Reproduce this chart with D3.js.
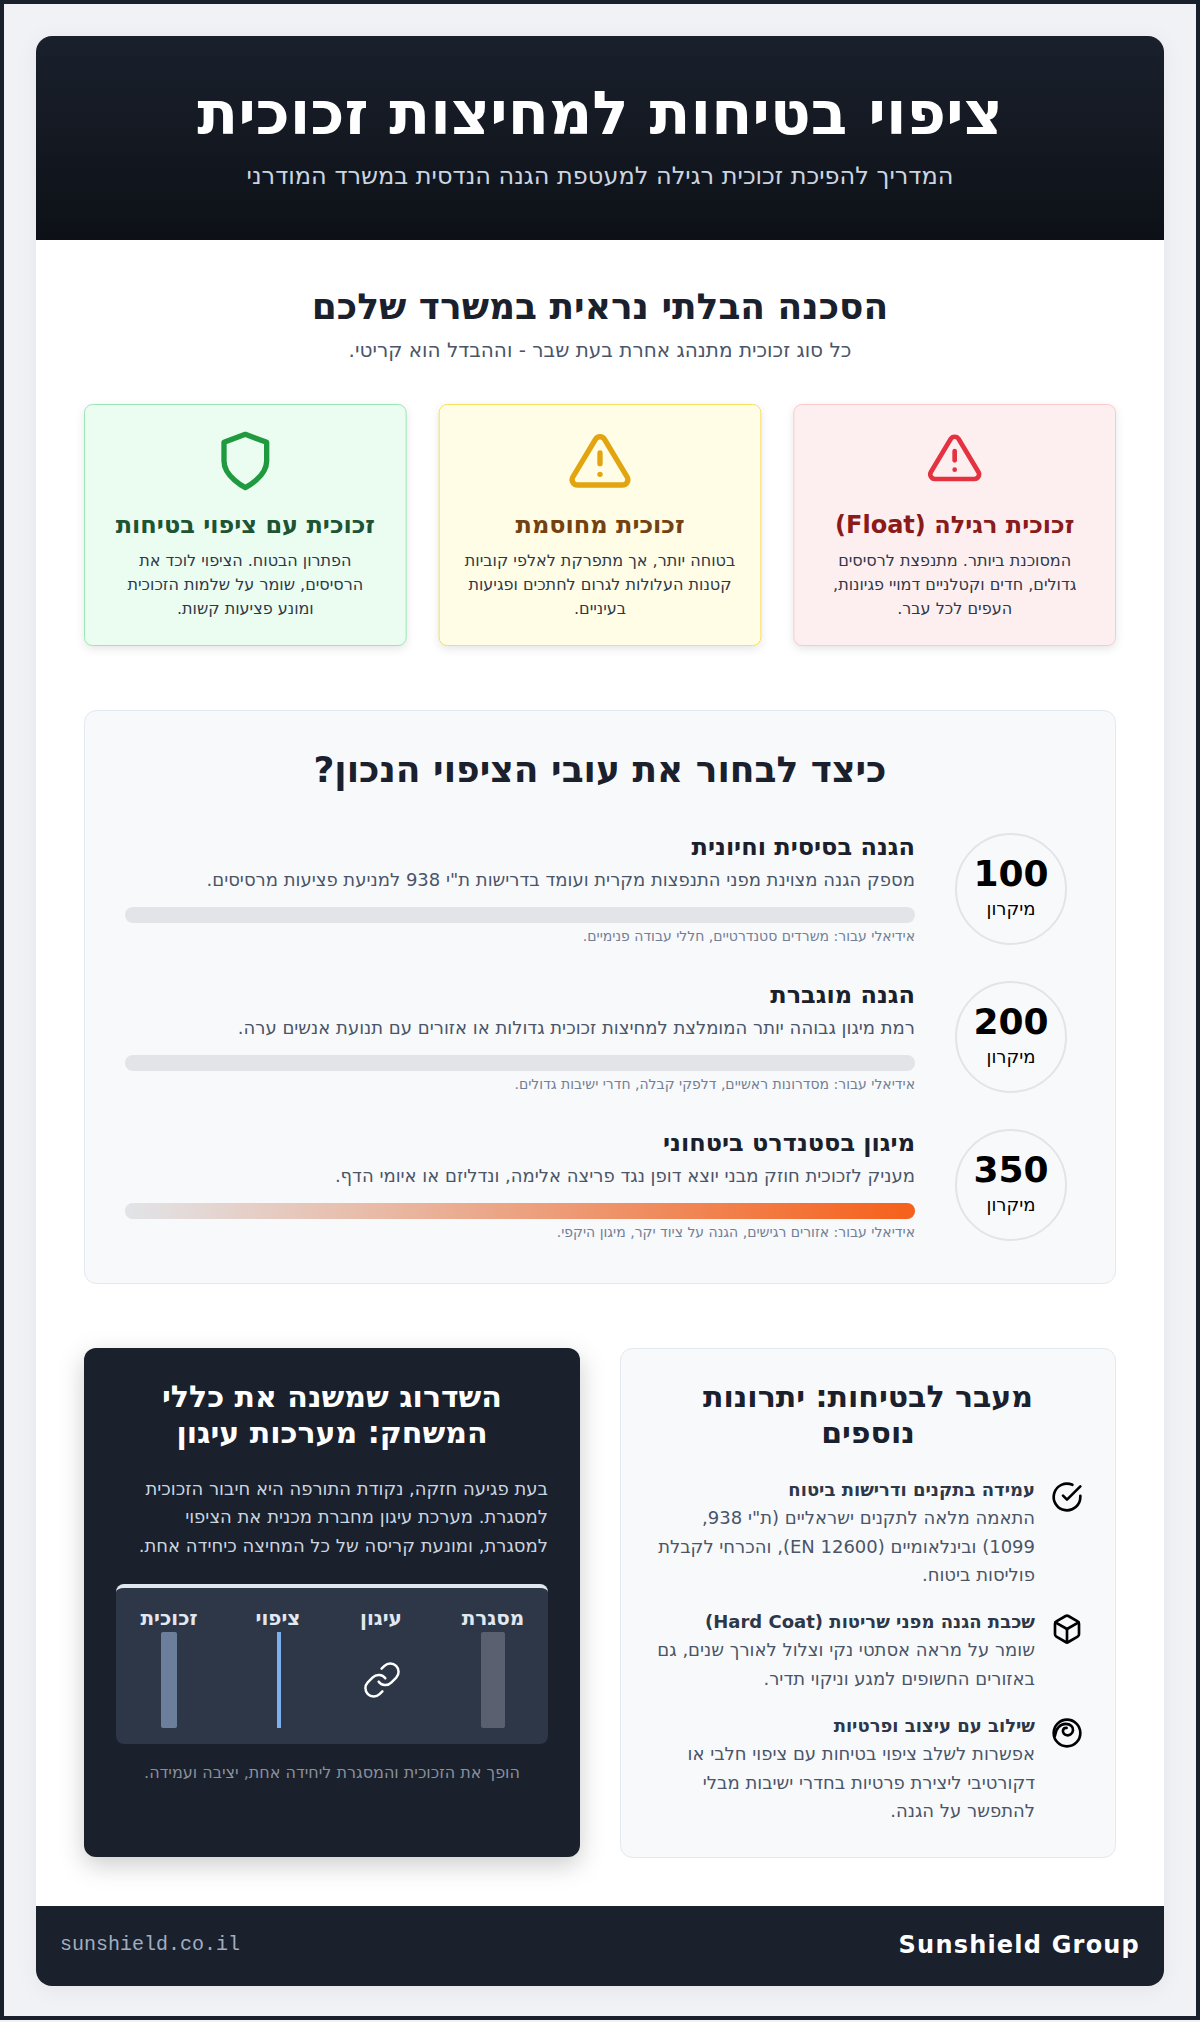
<!DOCTYPE html>
<html lang="he" dir="rtl">
<head>
<meta charset="utf-8">
<title>ציפוי בטיחות למחיצות זכוכית</title>
<script src="https://cdn.jsdelivr.net/npm/d3@7"></script>
<style>
  html, body { margin: 0; padding: 0; background: #f0f2f5; }
  svg { display: block; direction: rtl; font-family: "DejaVu Sans", sans-serif; }
  .bold { font-weight: 700; }
</style>
</head>
<body>
<div id="chart"></div>
<script>
// data
var headerTitle = "ציפוי בטיחות למחיצות זכוכית";
var headerSub = "המדריך להפיכת זכוכית רגילה למעטפת הגנה הנדסית במשרד המודרני";

var dangerTitle = "הסכנה הבלתי נראית במשרד שלכם";
var dangerSub = "כל סוג זכוכית מתנהג אחרת בעת שבר - וההבדל הוא קריטי.";

var cardTitles = ["זכוכית רגילה (Float)", "זכוכית מחוסמת", "זכוכית עם ציפוי בטיחות"];
var cardLines = [
  ["המסוכנת ביותר. מתנפצת לרסיסים", "גדולים, חדים וקטלניים דמויי פגיונות,", "העפים לכל עבר."],
  ["בטוחה יותר, אך מתפרקת לאלפי קוביות", "קטנות העלולות לגרום לחתכים ופגיעות", "בעיניים."],
  ["הפתרון הבטוח. הציפוי לוכד את", "הרסיסים, שומר על שלמות הזכוכית", "ומונע פציעות קשות."]
];

var thicknessTitle = "כיצד לבחור את עובי הציפוי הנכון?";
var microns = [100, 200, 350];
var micronUnit = "מיקרון";
var tierTitles = ["הגנה בסיסית וחיונית", "הגנה מוגברת", "מיגון בסטנדרט ביטחוני"];
var tierTexts = [
  "מספק הגנה מצוינת מפני התנפצות מקרית ועומד בדרישות ת\"י 938 למניעת פציעות מרסיסים.",
  "רמת מיגון גבוהה יותר המומלצת למחיצות זכוכית גדולות או אזורים עם תנועת אנשים ערה.",
  "מעניק לזכוכית חוזק מבני יוצא דופן נגד פריצה אלימה, ונדליזם או איומי הדף."
];
var tierNotes = [
  "אידיאלי עבור: משרדים סטנדרטיים, חללי עבודה פנימיים.",
  "אידיאלי עבור: מסדרונות ראשיים, דלפקי קבלה, חדרי ישיבות גדולים.",
  "אידיאלי עבור: אזורים רגישים, הגנה על ציוד יקר, מיגון היקפי."
];
// only the 350 bar shows a visible fill in the picture
var tierFill = [0, 0, 350];

var anchorTitle = ["השדרוג שמשנה את כללי", "המשחק: מערכות עיגון"];
var anchorLines = [
  "בעת פגיעה חזקה, נקודת התורפה היא חיבור הזכוכית",
  "למסגרת. מערכת עיגון מחברת מכנית את הציפוי",
  "למסגרת, ומונעת קריסה של כל המחיצה כיחידה אחת."
];
var layerNames = ["מסגרת", "עיגון", "ציפוי", "זכוכית"];
var anchorCaption = "הופך את הזכוכית והמסגרת ליחידה אחת, יציבה ועמידה.";

var extrasTitle = ["מעבר לבטיחות: יתרונות", "נוספים"];
var extrasHeads = ["עמידה בתקנים ודרישות ביטוח", "שכבת הגנה מפני שריטות (Hard Coat)", "שילוב עם עיצוב ופרטיות"];
var extrasLines = [
  ["התאמה מלאה לתקנים ישראליים (ת\"י 938,", "1099) ובינלאומיים (EN 12600), והכרחי לקבלת", "פוליסות ביטוח."],
  ["שומר על מראה אסתטי נקי וצלול לאורך שנים, גם", "באזורים החשופים למגע וניקוי תדיר."],
  ["אפשרות לשלב ציפוי בטיחות עם ציפוי חלבי או", "דקורטיבי ליצירת פרטיות בחדרי ישיבות מבלי", "להתפשר על הגנה."]
];

var footerSite = "sunshield.co.il";
var footerBrand = "Sunshield Group";

// icons, 24 unit box
var iconShield = ["M12 22s8-4 8-10V5l-8-3-8 3v7c0 6 8 10 8 10z"];
var iconAlert = ["M10.29 3.86L1.82 18a2 2 0 0 0 1.71 3h16.94a2 2 0 0 0 1.71-3L13.71 3.86a2 2 0 0 0-3.42 0z", "M12 9v4", "M12 17h.01"];
var iconLink = ["M10 13a5 5 0 0 0 7.54.54l3-3a5 5 0 0 0-7.07-7.07l-1.72 1.71", "M14 11a5 5 0 0 0-7.54-.54l-3 3a5 5 0 0 0 7.07 7.07l1.71-1.71"];
var iconCheck = ["M22 11.08V12a10 10 0 1 1-5.93-9.14", "M22 4L12 14.01l-3-3"];
var iconBox = ["M21 16V8a2 2 0 0 0-1-1.73l-7-4a2 2 0 0 0-2 0l-7 4A2 2 0 0 0 3 8v8a2 2 0 0 0 1 1.73l7 4a2 2 0 0 0 2 0l7-4A2 2 0 0 0 21 16z", "M3.27 6.96L12 12.01l8.73-5.05", "M12 22.08V12"];
var iconSwirl = ["M12 22a10 10 0 1 0 0-20 10 10 0 0 0 0 20z", "M3 14C3.5 8.5 7 5.2 11 5.2c3.5 0 5.8 2.2 5.5 4.8-.3 2.6-2.6 4-4.6 3.7-2-.3-3.3-2-2.9-3.7.3-1.3 1.3-1.9 2.7-1.8"];

var width = 1200, height = 2022;

var svg = d3.select("#chart").append("svg")
  .attr("width", width)
  .attr("height", height)
  .attr("viewBox", [0, 0, width, height]);

var defs = svg.append("defs");

var headGrad = defs.append("linearGradient").attr("id", "headGrad")
  .attr("x1", 0).attr("y1", 0).attr("x2", 0).attr("y2", 1);
headGrad.append("stop").attr("offset", "0%").attr("stop-color", "#1a202c");
headGrad.append("stop").attr("offset", "100%").attr("stop-color", "#0d1117");

defs.append("clipPath").attr("id", "pageClip")
  .append("rect").attr("x", 36).attr("y", 36).attr("width", 1128).attr("height", 1950).attr("rx", 16);

function label(parent, str, x, y, size, color, opts) {
  opts = opts || {};
  return parent.append("text")
    .attr("x", x)
    .attr("y", y)
    .attr("text-anchor", opts.anchor || "middle")
    .attr("font-size", size)
    .attr("fill", color)
    .attr("class", opts.bold ? "bold" : null)
    .text(str);
}

function lines(parent, arr, x, y, step, size, color, opts) {
  arr.forEach(function(d, i) {
    label(parent, d, x, y + i * step, size, color, opts);
  });
}

function icon(parent, paths, cx, cy, size, color, stroke) {
  parent.append("g")
    .attr("transform", "translate(" + (cx - size / 2) + "," + (cy - size / 2) + ") scale(" + size / 24 + ")")
    .attr("fill", "none")
    .attr("stroke", color)
    .attr("stroke-width", stroke || 2)
    .attr("stroke-linecap", "round")
    .attr("stroke-linejoin", "round")
    .selectAll("path")
    .data(paths)
    .join("path")
    .attr("d", function(d) { return d; });
}

// page frame
svg.append("rect")
  .attr("x", 2).attr("y", 2).attr("width", 1196).attr("height", 2016)
  .attr("fill", "#f0f2f5")
  .attr("stroke", "#1a202c")
  .attr("stroke-width", 4);

svg.append("rect")
  .attr("x", 36).attr("y", 36).attr("width", 1128).attr("height", 1950).attr("rx", 16)
  .attr("fill", "#fff")
  .style("filter", "drop-shadow(0 4px 10px rgba(0,0,0,0.05))");

var page = svg.append("g").attr("clip-path", "url(#pageClip)");
page.append("rect").attr("x", 36).attr("y", 36).attr("width", 1128).attr("height", 204).attr("fill", "url(#headGrad)");
page.append("rect").attr("x", 36).attr("y", 1906).attr("width", 1128).attr("height", 80).attr("fill", "#1a202c");

label(svg, headerTitle, 600, 134, 60, "#fff", { bold: true });
label(svg, headerSub, 600, 184, 24, "#cbd5e0");

// danger cards
label(svg, dangerTitle, 600, 319, 36, "#1a202c", { bold: true });
label(svg, dangerSub, 600, 357, 20, "#4a5568");

var cardX = d3.scaleBand().domain(d3.range(3)).range([1116, 84]).paddingInner(32 / (322.67 + 32));
var cardFill = ["#fdeff0", "#fffde6", "#ebfcf1"];
var cardStroke = ["#f8c9cd", "#f6e05e", "#9ae6b4"];
var cardHead = ["#8b1a1a", "#744210", "#1c5434"];
var cardIcons = [iconAlert, iconAlert, iconShield];
var cardIconSize = [56, 64, 64];
var cardIconColor = ["#e53240", "#e2a50f", "#1f9a3f"];

var cards = svg.selectAll(".card")
  .data(cardTitles)
  .join("g")
  .attr("class", "card");

cards.append("rect")
  .attr("x", function(d, i) { return cardX(i) + 0.5; })
  .attr("y", 404.5)
  .attr("width", cardX.bandwidth() - 1)
  .attr("height", 241)
  .attr("rx", 8)
  .attr("fill", function(d, i) { return cardFill[i]; })
  .attr("stroke", function(d, i) { return cardStroke[i]; })
  .style("filter", "drop-shadow(0 3px 4px rgba(0,0,0,0.1))");

cards.each(function(d, i) {
  var g = d3.select(this), cx = cardX(i) + cardX.bandwidth() / 2;
  icon(g, cardIcons[i], cx, 430 + cardIconSize[i] / 2 - (i === 0 ? 0 : 1), cardIconSize[i], cardIconColor[i]);
  label(g, d, cx, 533, 24, cardHead[i], { bold: true });
  lines(g, cardLines[i], cx, 566, 24, 16, "#2d3748");
});

// thickness panel
svg.append("rect")
  .attr("x", 84.5).attr("y", 710.5).attr("width", 1031).attr("height", 573).attr("rx", 12)
  .attr("fill", "#f8f9fb").attr("stroke", "#e2e8f0");

label(svg, thicknessTitle, 600, 782, 36, "#1a202c", { bold: true });

var tierY = d3.scalePoint().domain(d3.range(3)).range([889, 1185]);
var barX = d3.scaleLinear().domain([0, 350]).range([125, 915]);

var barGrad = defs.append("linearGradient").attr("id", "barGrad")
  .attr("gradientUnits", "userSpaceOnUse")
  .attr("x1", barX(0)).attr("y1", 0).attr("x2", barX(350)).attr("y2", 0);
barGrad.append("stop").attr("offset", "0%").attr("stop-color", "#e2e4e8");
barGrad.append("stop").attr("offset", "100%").attr("stop-color", "#f6601a");

var tiers = svg.selectAll(".tier")
  .data(microns)
  .join("g")
  .attr("class", "tier")
  .attr("transform", function(d, i) { return "translate(0," + tierY(i) + ")"; });

tiers.append("circle")
  .attr("cx", 1011).attr("cy", 0).attr("r", 55)
  .attr("fill", "#f8f9fb").attr("stroke", "#e2e4e8").attr("stroke-width", 2);

tiers.append("text").attr("class", "bold")
  .attr("x", 1011).attr("y", -3)
  .attr("text-anchor", "middle").attr("font-size", 36).attr("fill", "#000")
  .text(function(d) { return d; });

tiers.append("text")
  .attr("x", 1011).attr("y", 26)
  .attr("text-anchor", "middle").attr("font-size", 18).attr("fill", "#000")
  .text(micronUnit);

tiers.append("text").attr("class", "bold")
  .attr("x", 915).attr("y", -34)
  .attr("text-anchor", "start").attr("font-size", 24).attr("fill", "#1a202c")
  .text(function(d, i) { return tierTitles[i]; });

tiers.append("text")
  .attr("x", 915).attr("y", -3)
  .attr("text-anchor", "start").attr("font-size", 18).attr("fill", "#4a5568")
  .text(function(d, i) { return tierTexts[i]; });

tiers.append("rect")
  .attr("x", barX(0)).attr("y", 18)
  .attr("width", barX(350) - barX(0)).attr("height", 16).attr("rx", 8)
  .attr("fill", "#e2e4e8");

tiers.append("rect")
  .attr("x", barX(0)).attr("y", 18)
  .attr("width", function(d, i) { return barX(tierFill[i]) - barX(0); })
  .attr("height", 16).attr("rx", 8)
  .attr("fill", "url(#barGrad)");

tiers.append("text")
  .attr("x", 915).attr("y", 52)
  .attr("text-anchor", "start").attr("font-size", 14).attr("fill", "#718096")
  .text(function(d, i) { return tierNotes[i]; });

// anchor panel, dark
svg.append("rect")
  .attr("x", 84).attr("y", 1348).attr("width", 496).attr("height", 509).attr("rx", 12)
  .attr("fill", "#1a202c")
  .style("filter", "drop-shadow(0 8px 12px rgba(0,0,0,0.2))");

lines(svg, anchorTitle, 332, 1407, 36, 30, "#fff", { bold: true });
lines(svg, anchorLines, 548, 1495, 28.3, 18, "#cbd5e0", { anchor: "start" });

// light strip only along the top edge of the diagram box
svg.append("rect")
  .attr("x", 116).attr("y", 1584).attr("width", 432).attr("height", 24).attr("rx", 8)
  .attr("fill", "#e2e8f0");
svg.append("path")
  .attr("d", "M116 1592a8 4 0 0 1 8-4H540a8 4 0 0 1 8 4V1736a8 8 0 0 1-8 8H124a8 8 0 0 1-8-8z")
  .attr("fill", "#2d3748");

var layerX = d3.scaleOrdinal().domain(layerNames).range([493, 381, 279, 169]);
var layerWidth = d3.scaleOrdinal().domain(layerNames).range([24, 0, 4, 16]);
var layerColor = d3.scaleOrdinal().domain(layerNames).range(["#5a6070", "none", "#7eb0f0", "#6b7f9c"]);
var layerRound = d3.scaleOrdinal().domain(layerNames).range([2, 0, 0, 2]);

var layers = svg.selectAll(".layer")
  .data(layerNames)
  .join("g")
  .attr("class", "layer");

layers.append("text").attr("class", "bold")
  .attr("x", function(d) { return layerX(d) - (d === "ציפוי" ? 1 : 0); })
  .attr("y", 1625)
  .attr("text-anchor", "middle").attr("font-size", 20).attr("fill", "#e2e8f0")
  .text(function(d) { return d; });

layers.filter(function(d) { return layerWidth(d) > 0; })
  .append("rect")
  .attr("x", function(d) { return layerX(d) - layerWidth(d) / 2; })
  .attr("y", 1632)
  .attr("width", function(d) { return layerWidth(d); })
  .attr("height", 96)
  .attr("rx", function(d) { return layerRound(d); })
  .attr("fill", function(d) { return layerColor(d); });

icon(svg, iconLink, 382, 1680, 40, "#fff", 1.5);
label(svg, anchorCaption, 332, 1778, 16, "#8a909c");

// extras panel
svg.append("rect")
  .attr("x", 620.5).attr("y", 1348.5).attr("width", 495).attr("height", 509).attr("rx", 12)
  .attr("fill", "#f8f9fb").attr("stroke", "#e2e8f0");

lines(svg, extrasTitle, 868, 1407, 36, 30, "#1a202c", { bold: true });

var extrasY = d3.scaleOrdinal().domain(extrasHeads).range([1496, 1628, 1732]);
var extrasIcons = [iconCheck, iconBox, iconSwirl];

extrasHeads.forEach(function(d, i) {
  var y = extrasY(d);
  icon(svg, extrasIcons[i], 1067, y + 1, 32, "#000");
  label(svg, d, 1035, y, 18, "#2d3748", { anchor: "start", bold: true });
  lines(svg, extrasLines[i], 1035, y + 28.4, 28.3, 18, "#4a5568", { anchor: "start" });
});

// footer
label(svg, footerSite, 60, 1950, 20, "#a0aec0")
  .style("direction", "ltr").attr("text-anchor", "start")
  .style("font-family", "'Liberation Mono', monospace");
label(svg, footerBrand, 1140, 1953, 24, "#fff", { bold: true })
  .style("direction", "ltr").attr("text-anchor", "end")
  .style("letter-spacing", "1.2px");
</script>
</body>
</html>
